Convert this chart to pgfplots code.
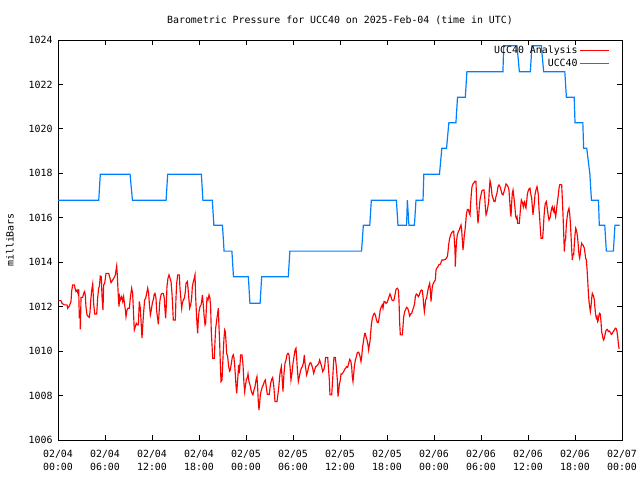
\documentclass[border=0pt]{standalone}
\usepackage{fontspec}
\setmainfont{DejaVu Sans Mono}
\usepackage{pgfplots}
\pgfplotsset{compat=1.18}
\definecolor{uccblue}{RGB}{0,128,255}
\begin{document}
\begin{tikzpicture}[font=\fontsize{9.9bp}{13bp}\selectfont]
\begin{axis}[
  scale only axis, width=564bp, height=400bp,
  xmin=0, xmax=72, ymin=1006, ymax=1024,
  axis line style={black, line width=0.8bp},
  tick style={black, line width=0.8bp},
  tick align=inside, tick pos=both, major tick length=5bp,
  xtick={0,6,...,72},
  xticklabels={{02/04\\00:00},{02/04\\06:00},{02/04\\12:00},{02/04\\18:00},{02/05\\00:00},{02/05\\06:00},{02/05\\12:00},{02/05\\18:00},{02/06\\00:00},{02/06\\06:00},{02/06\\12:00},{02/06\\18:00},{02/07\\00:00}},
  xticklabel style={align=center, yshift=-6.5bp},
  yticklabel style={xshift=-2bp},
  ytick={1006,1008,1010,1012,1014,1016,1018,1020,1022,1024},
  yticklabels={1006,1008,1010,1012,1014,1016,1018,1020,1022,1024},
  title={Barometric Pressure for UCC40 on 2025-Feb-04 (time in UTC)},
  title style={at={(axis description cs:0.5,1)}, anchor=center, yshift=14bp, inner sep=0pt},
  ylabel={milliBars},
  ylabel style={at={(axis description cs:-0.0851,0.5)}, anchor=center},
  legend style={at={(axis description cs:1,1)}, anchor=north east, xshift=-12bp, yshift=-3.5bp, draw=none, fill=none, inner sep=0pt, row sep=0bp, font=\fontsize{9.9bp}{13bp}\selectfont},
  legend cell align=right, legend plot pos=right,
  legend image code/.code={\draw[#1] (0bp,0bp) -- (29bp,0bp);},
]
\addplot[red, line width=1.15bp] coordinates {
(0.09,1012.27) (0.38,1012.27) (0.51,1012.15) (0.81,1012.08) (1.15,1012.08) (1.23,1011.93) (1.45,1012.03) (1.66,1012.23) (1.74,1012.68) (1.87,1012.98) (2.09,1012.98) (2.17,1012.83) (2.30,1012.68) (2.43,1012.75) (2.55,1012.6) (2.64,1012.78) (2.72,1011.48) (2.81,1011.85) (2.85,1010.98) (2.94,1012.42) (3.15,1012.42) (3.28,1012.6) (3.40,1012.68) (3.49,1012.48) (3.57,1012.0) (3.70,1011.63) (3.87,1011.55) (4.0,1011.52) (4.09,1011.78) (4.17,1012.23) (4.26,1012.6) (4.34,1012.83) (4.43,1013.02) (4.55,1012.15) (4.68,1011.67) (4.94,1011.67) (5.06,1012.38) (5.19,1012.83) (5.28,1012.9) (5.40,1013.38) (5.53,1013.35) (5.62,1012.45) (5.74,1011.85) (5.83,1012.98) (5.96,1013.05) (6.13,1013.5) (6.47,1013.5) (6.64,1013.28) (6.77,1013.08) (6.98,1013.2) (7.19,1013.32) (7.32,1013.43) (7.49,1013.83) (7.57,1013.43) (7.70,1012.45) (7.79,1012.0) (7.87,1012.45) (7.96,1012.3) (8.13,1012.45) (8.26,1012.23) (8.38,1012.45) (8.47,1012.18) (8.60,1011.85) (8.68,1011.55) (8.81,1011.85) (8.94,1011.93) (9.11,1011.93) (9.23,1012.38) (9.40,1012.83) (9.53,1012.6) (9.66,1011.55) (9.74,1010.95) (9.87,1011.1) (10.0,1011.25) (10.13,1011.18) (10.26,1011.18) (10.38,1012.23) (10.51,1011.93) (10.64,1011.1) (10.72,1010.58) (10.81,1011.1) (10.94,1011.78) (11.06,1012.3) (11.19,1012.38) (11.32,1012.6) (11.45,1012.83) (11.57,1012.6) (11.66,1012.15) (11.79,1011.63) (11.91,1011.85) (12.04,1012.15) (12.21,1012.38)
(12.26,1012.53) (12.38,1012.6) (12.51,1012.38) (12.60,1011.78) (12.72,1011.48) (12.81,1011.2) (12.94,1011.93) (13.02,1012.3) (13.15,1012.53) (13.28,1012.6) (13.45,1012.6) (13.57,1012.38) (13.66,1011.85) (13.74,1011.48) (13.83,1012.08) (13.91,1012.9) (14.04,1013.28) (14.17,1013.43) (14.30,1013.28) (14.43,1013.13) (14.55,1012.6) (14.64,1012.0) (14.72,1011.4) (14.98,1011.4) (15.06,1012.38) (15.15,1013.05) (15.28,1013.43) (15.49,1013.43) (15.57,1012.83) (15.70,1012.3) (15.79,1011.93) (15.87,1012.15) (16.0,1012.3) (16.13,1012.38) (16.26,1012.68) (16.34,1013.05) (16.51,1013.13) (16.60,1012.83) (16.72,1012.3) (16.81,1011.93) (16.94,1012.08) (17.06,1012.38) (17.15,1012.9) (17.28,1013.13) (17.40,1013.28) (17.49,1013.43) (17.57,1012.45) (17.66,1011.78) (17.74,1011.25) (17.83,1010.8) (17.91,1011.4) (18.0,1011.78) (18.13,1012.0) (18.26,1012.08) (18.34,1012.23) (18.43,1012.53) (18.55,1012.08) (18.64,1011.63) (18.77,1011.18) (18.85,1011.25) (18.94,1011.93) (19.02,1012.38) (19.15,1012.3) (19.28,1012.53) (19.40,1012.38) (19.49,1011.93) (19.57,1010.88) (19.66,1010.28) (19.74,1009.68) (19.96,1009.68) (20.04,1010.43) (20.13,1011.03) (20.26,1011.4) (20.38,1011.7) (20.47,1011.93) (20.55,1011.1) (20.64,1010.35) (20.72,1009.45) (20.81,1008.63) (20.94,1008.7) (21.02,1009.38) (21.11,1010.05) (21.19,1010.58) (21.28,1010.95) (21.36,1010.88) (21.45,1010.43) (21.53,1009.9) (21.66,1009.75) (21.79,1009.3) (21.91,1009.1) (22.0,1009.15) (22.13,1009.45) (22.26,1009.75) (22.38,1009.83) (22.47,1009.68) (22.55,1009.38) (22.64,1008.93) (22.72,1008.48) (22.81,1008.1) (22.89,1008.48) (22.98,1008.93) (23.06,1009.38) (23.15,1009.0) (23.23,1009.38) (23.32,1009.83) (23.49,1009.83) (23.62,1009.38) (23.74,1008.55) (23.83,1008.18) (23.91,1008.4) (24.04,1008.7) (24.21,1008.85)
(24.26,1008.97) (24.38,1008.63) (24.51,1008.48) (24.64,1008.25) (24.77,1008.1) (24.89,1008.03) (25.02,1008.25) (25.15,1008.4) (25.28,1008.7) (25.40,1008.85) (25.49,1008.33) (25.57,1007.73) (25.66,1007.35) (25.74,1007.65) (25.83,1008.03) (25.96,1008.25) (26.09,1008.4) (26.21,1008.48) (26.34,1008.63) (26.47,1008.7) (26.55,1008.48) (26.64,1008.25) (26.72,1008.06) (26.98,1008.06) (27.06,1008.33) (27.15,1008.55) (27.28,1008.73) (27.40,1008.81) (27.53,1008.48) (27.62,1008.1) (27.70,1007.73) (27.96,1007.73) (28.04,1007.95) (28.17,1008.33) (28.30,1008.85) (28.38,1009.08) (28.51,1009.3) (28.60,1008.85) (28.72,1008.18) (28.85,1009.0) (28.98,1009.45) (29.11,1009.6) (29.23,1009.83) (29.36,1009.9) (29.49,1009.83) (29.62,1009.3) (29.74,1008.7) (29.87,1009.0) (30.0,1009.45) (30.13,1009.75) (30.26,1010.05) (30.38,1010.13) (30.47,1009.68) (30.55,1009.23) (30.68,1008.63) (30.81,1008.85) (30.94,1009.08) (31.06,1009.23) (31.19,1009.3) (31.32,1009.45) (31.45,1009.83) (31.53,1009.45) (31.62,1009.23) (31.74,1008.93) (31.87,1009.08) (32.0,1009.3) (32.13,1009.45) (32.26,1009.48) (32.38,1009.38) (32.51,1009.23) (32.64,1009.0) (32.77,1009.15) (32.89,1009.3) (33.02,1009.33) (33.15,1009.38) (33.28,1009.45) (33.40,1009.6) (33.53,1009.45) (33.66,1009.3) (33.79,1009.08) (33.91,1009.15) (34.04,1009.3) (34.17,1009.72) (34.43,1009.72) (34.51,1009.3) (34.64,1008.7) (34.72,1008.03) (34.94,1008.03) (35.06,1008.7) (35.15,1009.3) (35.23,1009.72) (35.40,1009.72) (35.53,1009.3) (35.66,1008.7) (35.74,1007.95) (35.83,1008.18) (35.91,1008.48) (36.04,1008.7) (36.13,1008.97) (36.26,1008.97)
(36.47,1009.08) (36.60,1009.18) (36.72,1009.23) (36.85,1009.3) (36.98,1009.27) (37.11,1009.45) (37.23,1009.63) (37.36,1009.57) (37.49,1009.3) (37.57,1008.85) (37.66,1008.63) (37.74,1008.93) (37.83,1009.3) (37.96,1009.6) (38.09,1009.75) (38.21,1009.93) (38.38,1009.95) (38.51,1009.83) (38.60,1009.68) (38.68,1009.53) (38.77,1009.75) (38.89,1010.2) (39.02,1010.5) (39.15,1010.8) (39.23,1010.8) (39.32,1010.65) (39.45,1010.5) (39.57,1010.28) (39.66,1010.05) (39.74,1010.28) (39.83,1010.43) (39.91,1010.8) (40.0,1011.18) (40.13,1011.48) (40.26,1011.63) (40.38,1011.7) (40.51,1011.63) (40.64,1011.43) (40.77,1011.28) (40.89,1011.28) (41.02,1011.55) (41.15,1011.88) (41.28,1012.0) (41.40,1012.08) (41.49,1011.93) (41.62,1012.23) (41.74,1012.23) (41.87,1012.15) (42.0,1012.18) (42.13,1012.3) (42.26,1012.45) (42.38,1012.57) (42.51,1012.45) (42.64,1012.3) (42.77,1012.27) (42.89,1012.3) (43.02,1012.53) (43.15,1012.78) (43.32,1012.83) (43.45,1012.75) (43.53,1012.3) (43.62,1011.25) (43.70,1010.73) (43.96,1010.73) (44.04,1011.1) (44.13,1011.55) (44.26,1011.78) (44.38,1011.88) (44.51,1011.97) (44.64,1011.93) (44.77,1011.78) (44.89,1011.58) (45.02,1011.67) (45.15,1011.7) (45.28,1011.85) (45.40,1011.97) (45.53,1012.15) (45.62,1012.45) (45.74,1012.57) (45.87,1012.53) (46.0,1012.45) (46.13,1012.53) (46.26,1012.68) (46.38,1012.75) (46.51,1012.72) (46.60,1012.45) (46.68,1012.08) (46.77,1011.78) (46.85,1012.0) (46.94,1012.3) (47.06,1012.38) (47.19,1012.68) (47.32,1012.9) (47.45,1013.05) (47.53,1012.75) (47.62,1012.23) (47.70,1012.6) (47.79,1012.9) (47.91,1013.05) (48.04,1013.13) (48.17,1013.2)
(48.26,1013.65) (48.34,1013.73) (48.47,1013.77) (48.60,1013.88) (48.77,1013.9) (48.89,1013.98) (49.02,1014.1) (49.23,1014.1) (49.45,1014.13) (49.57,1014.18) (49.70,1014.25) (49.79,1014.48) (49.87,1014.78) (50.0,1015.08) (50.13,1015.23) (50.26,1015.33) (50.38,1015.38) (50.51,1015.4) (50.60,1015.0) (50.68,1014.55) (50.72,1013.8) (50.81,1014.55) (50.89,1015.0) (50.98,1015.23) (51.11,1015.38) (51.23,1015.45) (51.36,1015.6) (51.45,1015.68) (51.53,1015.45) (51.62,1015.0) (51.70,1014.55) (51.79,1014.85) (51.87,1015.23) (51.96,1015.45) (52.04,1015.75) (52.13,1016.13) (52.26,1016.38) (52.38,1016.38) (52.51,1016.2) (52.60,1016.13) (52.68,1016.65) (52.77,1017.1) (52.85,1017.4) (52.98,1017.52) (53.11,1017.58) (53.23,1017.65) (53.36,1017.63) (53.45,1016.65) (53.53,1016.2) (53.62,1015.75) (53.70,1016.05) (53.79,1016.5) (53.87,1016.8) (54.0,1017.03) (54.13,1017.22) (54.26,1017.25) (54.38,1017.25) (54.47,1016.95) (54.55,1016.5) (54.64,1016.13) (54.72,1016.2) (54.85,1016.43) (54.98,1016.73) (55.06,1017.25) (55.15,1017.67) (55.23,1017.55) (55.32,1017.33) (55.40,1017.03) (55.53,1016.88) (55.66,1016.73) (55.79,1016.73) (55.91,1016.95) (56.04,1017.1) (56.17,1017.4) (56.30,1017.48) (56.43,1017.4) (56.55,1017.25) (56.68,1017.07) (56.81,1017.03) (56.94,1017.18) (57.06,1017.33) (57.19,1017.52) (57.32,1017.48) (57.45,1017.4) (57.57,1017.25) (57.66,1016.8) (57.74,1016.35) (57.83,1016.05) (57.91,1016.65) (58.0,1017.1) (58.09,1017.25) (58.17,1017.03) (58.26,1016.73) (58.34,1016.43) (58.43,1016.05) (58.51,1015.98) (58.60,1016.05) (58.68,1015.75) (58.89,1015.75) (58.98,1016.13) (59.06,1016.5) (59.15,1016.8) (59.23,1016.73) (59.32,1016.65) (59.40,1016.5) (59.49,1016.68) (59.57,1016.73) (59.66,1016.5) (59.74,1016.43) (59.83,1016.73) (59.91,1017.03) (60.0,1017.18) (60.13,1017.3) (60.26,1017.33)
(60.34,1017.1) (60.47,1016.88) (60.55,1016.5) (60.64,1016.13) (60.72,1016.43) (60.81,1016.65) (60.89,1017.03) (61.02,1017.25) (61.15,1017.4) (61.23,1017.25) (61.32,1017.03) (61.40,1016.43) (61.49,1015.98) (61.57,1015.53) (61.66,1015.08) (61.87,1015.08) (61.96,1015.53) (62.04,1016.05) (62.13,1016.43) (62.21,1016.65) (62.34,1016.73) (62.43,1016.5) (62.51,1016.28) (62.60,1016.05) (62.68,1015.9) (62.77,1015.98) (62.85,1016.05) (62.94,1016.28) (63.02,1016.43) (63.11,1016.5) (63.19,1016.35) (63.28,1016.28) (63.36,1016.43) (63.45,1016.2) (63.53,1016.05) (63.62,1016.28) (63.70,1016.58) (63.79,1016.8) (63.87,1017.03) (63.96,1017.33) (64.04,1017.48) (64.17,1017.5) (64.30,1017.48) (64.38,1016.88) (64.47,1016.13) (64.55,1015.38) (64.64,1014.48) (64.72,1014.93) (64.81,1015.08) (64.89,1015.68) (64.98,1015.98) (65.06,1016.2) (65.15,1016.35) (65.23,1016.43) (65.32,1016.2) (65.40,1015.83) (65.49,1015.23) (65.57,1014.63) (65.66,1014.1) (65.74,1014.33) (65.83,1014.33) (65.91,1014.78) (66.0,1015.23) (66.09,1015.53) (66.17,1015.45) (66.26,1015.3) (66.34,1015.08) (66.43,1014.7) (66.51,1014.33) (66.60,1014.18) (66.68,1014.4) (66.77,1014.7) (66.85,1014.85) (66.94,1014.78) (67.02,1014.78) (67.11,1014.7) (67.19,1014.63) (67.28,1014.4) (67.36,1014.18) (67.45,1014.1) (67.53,1013.73) (67.62,1013.2) (67.70,1012.68) (67.79,1012.23) (67.87,1012.0) (67.96,1011.78) (68.04,1012.0) (68.13,1012.38) (68.21,1012.6) (68.30,1012.53) (68.38,1012.45) (68.47,1012.3) (68.55,1011.93) (68.64,1011.63) (68.72,1011.48) (68.81,1011.55) (68.89,1011.33) (68.98,1011.4) (69.06,1011.63) (69.15,1011.7) (69.23,1011.66) (69.32,1011.33) (69.40,1010.88) (69.49,1010.73) (69.57,1010.58) (69.66,1010.5) (69.74,1010.58) (69.83,1010.73) (69.91,1010.88) (70.0,1010.95) (70.09,1010.98) (70.17,1010.95) (70.26,1010.88) (70.38,1010.9) (70.51,1010.85) (70.64,1010.75) (70.77,1010.8) (70.89,1010.88) (71.02,1010.95) (71.15,1011.03) (71.28,1011.0) (71.36,1010.88) (71.45,1010.65) (71.53,1010.35) (71.62,1010.13) (71.70,1010.13)
};
\addlegendentry{UCC40 Analysis}
\addplot[uccblue, line width=1.2bp] coordinates {
(0,1016.79) (5.2,1016.79) (5.4,1017.96) (9.2,1017.96) (9.5,1016.79) (13.8,1016.79) (14.0,1017.96) (18.3,1017.96) (18.5,1016.79) (19.7,1016.79) (19.9,1015.66) (21.0,1015.66) (21.2,1014.5) (22.2,1014.5) (22.4,1013.35) (24.3,1013.35) (24.5,1012.15) (25.8,1012.15) (26.0,1013.35) (29.4,1013.35) (29.6,1014.5) (38.75,1014.5) (38.98,1015.66) (39.8,1015.66) (40.0,1016.79) (43.2,1016.79) (43.4,1015.66) (44.5,1015.66) (44.6,1016.79) (44.8,1015.66) (45.5,1015.66) (45.7,1016.79) (46.6,1016.79) (46.7,1017.96) (48.7,1017.96) (49.0,1019.13) (49.6,1019.13) (49.9,1020.28) (50.8,1020.28) (51.0,1021.42) (52.0,1021.42) (52.2,1022.57) (56.8,1022.57) (56.9,1023.74) (58.6,1023.74) (58.9,1022.57) (60.3,1022.57) (60.5,1023.74) (61.7,1023.74) (62.0,1022.57) (64.7,1022.57) (64.9,1021.42) (65.9,1021.42) (66.0,1020.28) (67.0,1020.28) (67.1,1019.13) (67.5,1019.13) (67.9,1017.96) (68.1,1016.79) (69.0,1016.79) (69.1,1015.66) (69.8,1015.66) (70.0,1014.5) (70.9,1014.5) (71.1,1015.66) (71.7,1015.66)
};
\addlegendentry{UCC40}
\coordinate (bbl) at (axis description cs:-0.102837,-0.1);
\coordinate (btr) at (axis description cs:1.031915,1.1);
\end{axis}
\pgfresetboundingbox
\path (bbl) rectangle (btr);
\end{tikzpicture}
\end{document}
